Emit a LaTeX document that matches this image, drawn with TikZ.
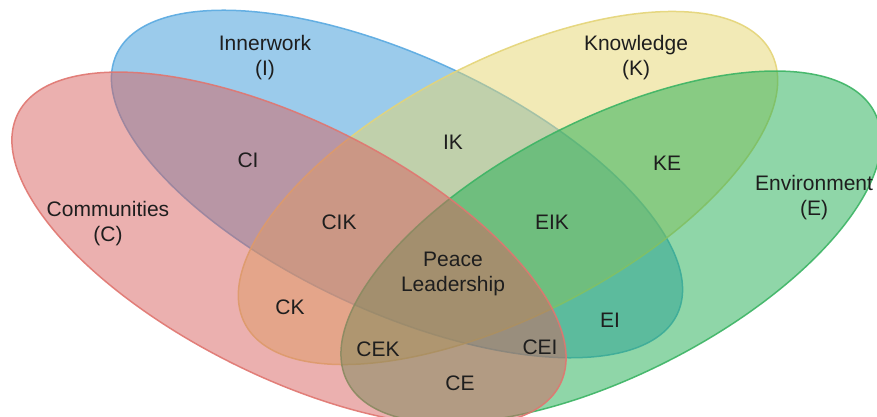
\documentclass[tikz,border=0pt]{standalone}
\usepackage{fontspec}
\setmainfont{Liberation Sans}
\definecolor{redbase}{RGB}{215,97,95}
\definecolor{bluebase}{RGB}{55,151,215}
\definecolor{yellowbase}{RGB}{229,213,109}
\definecolor{greenbase}{RGB}{31,173,81}
\definecolor{rededge}{RGB}{224,118,112}
\definecolor{blueedge}{RGB}{90,170,225}
\definecolor{yellowedge}{RGB}{228,212,120}
\definecolor{greenedge}{RGB}{60,180,100}
\definecolor{labeltext}{RGB}{30,30,30}
\begin{document}
\begin{tikzpicture}[x=1pt,y=1pt,
  setfill/.style={fill=#1, fill opacity=0.5},
  setedge/.style={draw=#1, line width=1.5pt, draw opacity=0.9},
  lbl/.style={text=labeltext, font=\fontsize{21}{25}\selectfont, align=center, inner sep=0pt}]
\useasboundingbox (0,0) rectangle (877,417);
\clip (0,0) rectangle (877,417);
\coordinate (cC) at (289,168);
\coordinate (cI) at (397,233);
\coordinate (cK) at (508,229);
\coordinate (cE) at (611,170);
% each set: fill, then its edge
\path[setfill=bluebase, rotate around={-24.8:(cI)}] (cI) ellipse [x radius=309pt, y radius=127.5pt];
\path[setedge=blueedge, rotate around={-24.8:(cI)}] (cI) ellipse [x radius=309pt, y radius=127.5pt];
\path[setfill=yellowbase, rotate around={27.2:(cK)}] (cK) ellipse [x radius=296pt, y radius=127.5pt];
\path[setedge=yellowedge, rotate around={27.2:(cK)}] (cK) ellipse [x radius=296pt, y radius=127.5pt];
\path[setfill=greenbase, rotate around={27:(cE)}] (cE) ellipse [x radius=296pt, y radius=127.5pt];
\path[setedge=greenedge, rotate around={27:(cE)}] (cE) ellipse [x radius=296pt, y radius=127.5pt];
\path[setfill=redbase, rotate around={-26.5:(cC)}] (cC) ellipse [x radius=303pt, y radius=127.5pt];
\path[setedge=rededge, rotate around={-26.5:(cC)}] (cC) ellipse [x radius=303pt, y radius=127.5pt];
% labels
\node[lbl] (tI) at (265,359) {Innerwork\\(I)};
\node[lbl] (tK) at (636,359) {Knowledge\\(K)};
\node[lbl] (tC) at (108,193) {Communities\\(C)};
\node[lbl] (tE) at (814,219) {Environment\\(E)};
\node[lbl] (tCI) at (248,257) {CI};
\node[lbl] (tIK) at (453,275) {IK};
\node[lbl] (tKE) at (667,254) {KE};
\node[lbl] (tCIK) at (339,195) {CIK};
\node[lbl] (tEIK) at (552,195) {EIK};
\node[lbl] (tPL) at (453,143) {Peace\\Leadership};
\node[lbl] (tCK) at (290,110) {CK};
\node[lbl] (tCEK) at (378,68) {CEK};
\node[lbl] (tCEI) at (540,70) {CEI};
\node[lbl] (tEI) at (610,97) {EI};
\node[lbl] (tCE) at (460,34) {CE};
\end{tikzpicture}
\end{document}
